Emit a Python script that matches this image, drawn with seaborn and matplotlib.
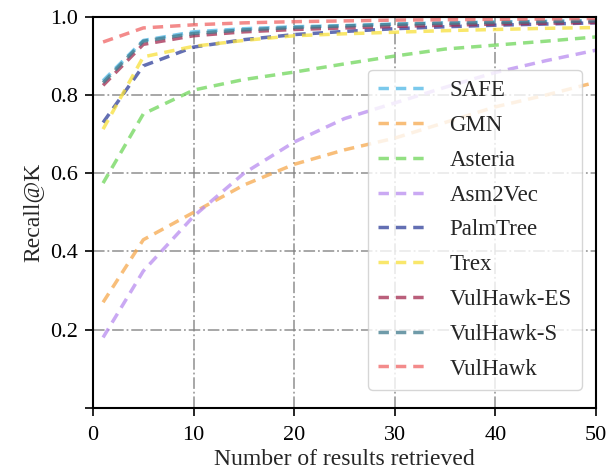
import matplotlib
matplotlib.use("Agg")
import matplotlib.pyplot as plt
import seaborn as sns
import pandas as pd

K = [1, 5, 10, 15, 20, 25, 30, 35, 40, 45, 50]
methods = ["SAFE", "GMN", "Asteria", "Asm2Vec", "PalmTree", "Trex",
           "VulHawk-ES", "VulHawk-S", "VulHawk"]
safe = [0.837, 0.940, 0.962, 0.970, 0.975, 0.978, 0.982, 0.985, 0.987, 0.989, 0.990]
gmn = [0.270, 0.430, 0.500, 0.570, 0.623, 0.660, 0.690, 0.730, 0.770, 0.800, 0.833]
asteria = [0.575, 0.752, 0.813, 0.840, 0.859, 0.880, 0.900, 0.918, 0.928, 0.938, 0.949]
asm2vec = [0.180, 0.350, 0.490, 0.600, 0.680, 0.740, 0.780, 0.820, 0.858, 0.888, 0.915]
palmtree = [0.730, 0.875, 0.923, 0.942, 0.955, 0.963, 0.970, 0.975, 0.979, 0.982, 0.985]
trex = [0.713, 0.898, 0.925, 0.940, 0.952, 0.957, 0.961, 0.965, 0.968, 0.971, 0.973]
vulhawk_es = [0.825, 0.930, 0.952, 0.962, 0.968, 0.972, 0.976, 0.979, 0.982, 0.984, 0.986]
vulhawk_s = [0.832, 0.938, 0.958, 0.967, 0.973, 0.977, 0.981, 0.984, 0.986, 0.988, 0.990]
vulhawk = [0.936, 0.972, 0.980, 0.985, 0.988, 0.990, 0.992, 0.993, 0.994, 0.995, 0.996]
series = [safe, gmn, asteria, asm2vec, palmtree, trex, vulhawk_es, vulhawk_s, vulhawk]
colors = ["#4fb8e6", "#f6a94e", "#6fd65a", "#b98cf0", "#2f3f9a", "#f7e03a",
          "#a32a4f", "#3f7a8c", "#f06464"]

rows = []
for m, vals in zip(methods, series):
    for k, v in zip(K, vals):
        rows.append({"K": k, "Recall": v, "Method": m})
df = pd.DataFrame(rows)

sns.set_style("ticks")
plt.rcParams["font.family"] = ["Liberation Serif", "DejaVu Serif"]

fig = plt.figure(figsize=(6.08, 4.72), dpi=100)
ax = fig.add_axes([0.153, 0.136, 0.827, 0.828])

DASH = [3, 2]
sns.lineplot(data=df, x="K", y="Recall", hue="Method", hue_order=methods,
             palette=dict(zip(methods, colors)), ax=ax, linewidth=2.5,
             alpha=0.75, legend=False)
for line in ax.get_lines():
    line.set_dashes(DASH)

handles = [plt.Line2D([], [], color=c, lw=2.5, alpha=0.75, dashes=DASH) for c in colors]
leg = ax.legend(handles, methods, loc="lower right", bbox_to_anchor=(0.972, 0.046),
                borderaxespad=0, fontsize=16.5, frameon=True, framealpha=0.8,
                handlelength=2.2, labelspacing=0.6, borderpad=0.45,
                handletextpad=0.9)
leg.get_frame().set_edgecolor("#cccccc")

ax.set_xlim(0, 50)
ax.set_ylim(0, 1.0)
ax.set_xticks([0, 10, 20, 30, 40, 50])
ax.set_yticks([0.0, 0.2, 0.4, 0.6, 0.8, 1.0])
ax.set_yticklabels(["", "0.2", "0.4", "0.6", "0.8", "1.0"])
ax.tick_params(labelsize=16, direction="out", length=6, width=1.2, colors="black", pad=5)
ax.tick_params(axis="x", pad=7)
ax.grid(True, linestyle="-.", color="gray", alpha=0.75, linewidth=1.3)
for s in ax.spines.values():
    s.set_color("black")
    s.set_linewidth(1.5)
ax.set_xlabel("Number of results retrieved", fontsize=17, labelpad=3)
ax.set_ylabel("Recall@K", fontsize=17, labelpad=5)

fig.savefig("out.png", dpi=100)
